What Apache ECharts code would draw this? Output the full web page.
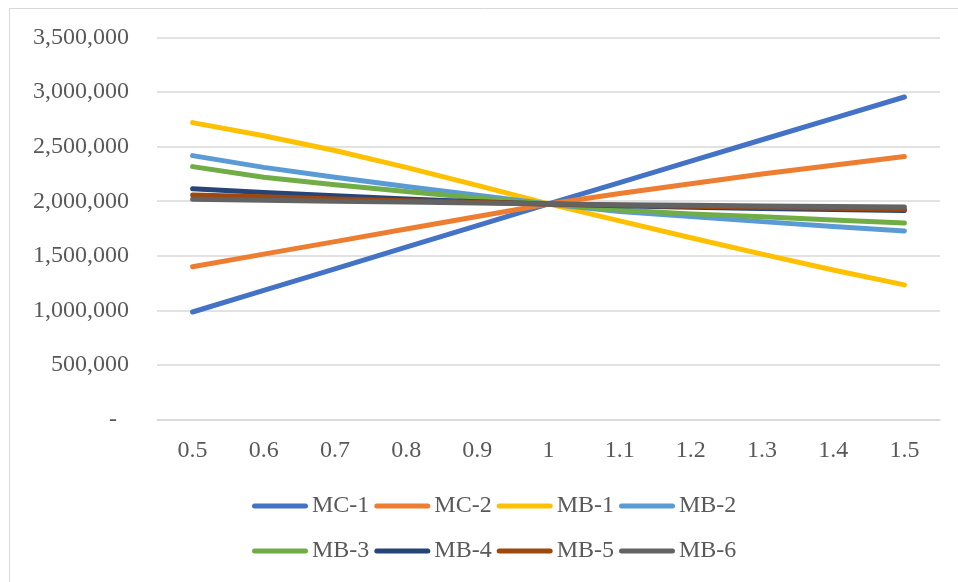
<!DOCTYPE html>
<html>
<head>
<meta charset="utf-8">
<title>Sensitivity</title>
<script src="https://cdn.jsdelivr.net/npm/echarts@6/dist/echarts.min.js"></script>
<style>
  html, body { margin: 0; padding: 0; background: #ffffff; }
  #chart { width: 958px; height: 582px; }
</style>
</head>
<body>
<div id="chart"></div>
<script>
// Factor applied to each parameter (x axis)
const factors = ['0.5', '0.6', '0.7', '0.8', '0.9', '1', '1.1', '1.2', '1.3', '1.4', '1.5'];

// Result for each parameter as its factor varies
const mc1 = [985000, 1183000, 1381000, 1579000, 1777000, 1975000, 2171000, 2367000, 2563000, 2759000, 2955000];
const mc2 = [1400000, 1515000, 1630000, 1745000, 1860000, 1975000, 2070000, 2160000, 2250000, 2330000, 2410000];
const mb1 = [2720000, 2600000, 2465000, 2310000, 2145000, 1975000, 1820000, 1665000, 1515000, 1370000, 1233000];
const mb2 = [2418000, 2310000, 2220000, 2135000, 2055000, 1975000, 1905000, 1860000, 1813000, 1768000, 1728000];
const mb3 = [2317000, 2220000, 2150000, 2090000, 2030000, 1975000, 1920000, 1884000, 1858000, 1828000, 1800000];
const mb4 = [2115000, 2080000, 2050000, 2020000, 1995000, 1975000, 1958000, 1945000, 1933000, 1923000, 1914000];
const mb5 = [2058000, 2040000, 2020000, 2005000, 1990000, 1975000, 1963000, 1953000, 1944000, 1935000, 1927000];
const mb6 = [2018000, 2009000, 2000000, 1992000, 1983000, 1975000, 1968000, 1962000, 1957000, 1952000, 1948000];

const seriesNames = ['MC-1', 'MC-2', 'MB-1', 'MB-2', 'MB-3', 'MB-4', 'MB-5', 'MB-6'];
const seriesData = [mc1, mc2, mb1, mb2, mb3, mb4, mb5, mb6];
const colors = ['#4472C4', '#ED7D31', '#FFC000', '#5B9BD5', '#70AD47', '#264478', '#9E480E', '#636363'];

const yTicks = { min: 0, max: 3500000, interval: 500000 };

const FONT = '"Liberation Serif", "DejaVu Serif", serif';
const TEXT = '#595959';
const GRID = '#d9d9d9';

// Legend key: a thick line with rounded ends
const KEY_ICON = 'path://M2.5,0 H53.5 A2.5,2.5 0 0 1 53.5,5 H2.5 A2.5,2.5 0 0 1 2.5,0 Z';

const chart = echarts.init(document.getElementById('chart'), null, { renderer: 'canvas' });

function legendRow(names, top) {
  return {
    data: names.map(n => ({ name: n, icon: KEY_ICON })),
    left: 247,
    top: top,
    orient: 'horizontal',
    itemWidth: 56,
    itemHeight: 5,
    itemGap: 5,
    textStyle: { fontFamily: FONT, fontSize: 24, color: TEXT, padding: [0, 0, 0, -1] },
    selectedMode: false
  };
}

chart.setOption({
  animation: false,
  color: colors,
  graphic: [{
    type: 'rect',
    shape: { x: 9.5, y: 8.5, width: 1000, height: 1000 },
    style: { fill: 'none', stroke: GRID, lineWidth: 1 },
    silent: true
  }],
  grid: { left: 157, right: 18, top: 37.5, bottom: 162.5, containLabel: false },
  legend: [
    legendRow(seriesNames.slice(0, 4), 489),
    legendRow(seriesNames.slice(4), 534)
  ],
  xAxis: {
    type: 'category',
    data: factors,
    boundaryGap: true,
    axisLine: { show: true, lineStyle: { color: GRID, width: 1.5 } },
    axisTick: { show: false },
    axisLabel: { fontFamily: FONT, fontSize: 24, color: TEXT, margin: 19 },
    splitLine: { show: false }
  },
  yAxis: {
    type: 'value',
    min: yTicks.min,
    max: yTicks.max,
    interval: yTicks.interval,
    axisLine: { show: false },
    axisTick: { show: false },
    axisLabel: {
      fontFamily: FONT, fontSize: 24, color: TEXT, margin: 28,
      formatter: v => v === 0 ? '-\u2002' : v.toLocaleString('en-US')
    },
    splitLine: { lineStyle: { color: GRID, width: 1.5 } }
  },
  series: seriesNames.map((name, i) => ({
    name: name,
    type: 'line',
    data: seriesData[i],
    symbol: 'none',
    smooth: false,
    lineStyle: { width: 5, color: colors[i], cap: 'round', join: 'round' },
    itemStyle: { color: colors[i] },
    emphasis: { disabled: true }
  }))
});
</script>
</body>
</html>
